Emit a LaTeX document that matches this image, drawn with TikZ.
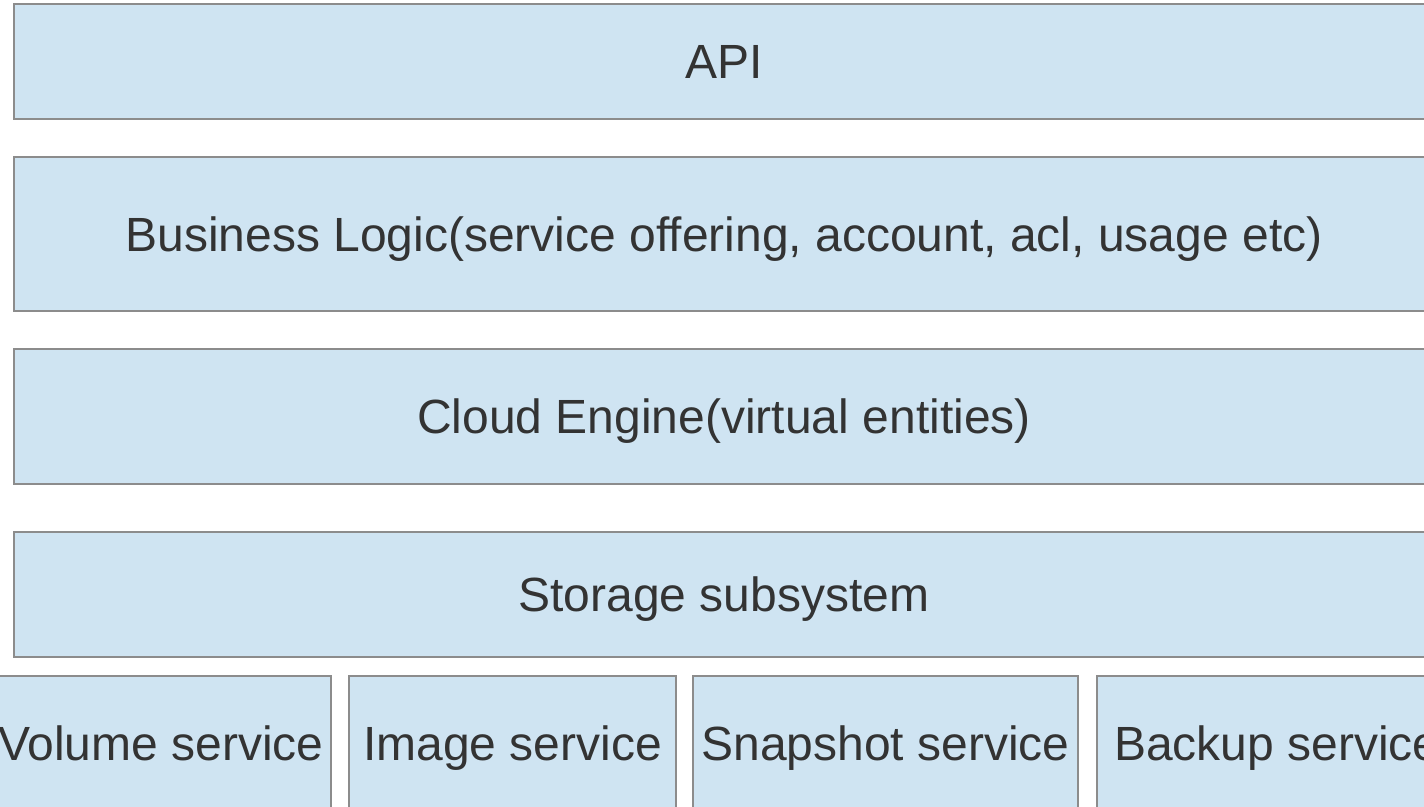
\documentclass[tikz,border=0pt]{standalone}
\usepackage{fontspec}
\setmainfont{Liberation Sans}
\definecolor{layerfill}{RGB}{207,228,242}
\definecolor{layerline}{RGB}{140,140,140}
\definecolor{layertext}{RGB}{51,51,51}
\tikzset{
  layer/.style={draw=layerline, fill=layerfill, line width=1.1pt, inner sep=0pt,
    outer sep=0pt, text=layertext, font=\fontsize{48}{56}\selectfont,
    text height=34.5pt, text depth=0pt}
}
\begin{document}
\begin{tikzpicture}[x=1pt, y=-1pt]
  \useasboundingbox (0,0) rectangle (1424,806);
  \clip (0,0) rectangle (1424,806);
  % stacked layers
  \node[layer, minimum width=1420pt, minimum height=115pt] (api) at (724,61.5) {API};
  \node[layer, minimum width=1420pt, minimum height=154pt] (biz) at (724,234) {Business Logic(service offering, account, acl, usage etc)};
  \node[layer, minimum width=1420pt, minimum height=135pt] (engine) at (724,416.5) {Cloud Engine(virtual entities)};
  \node[layer, minimum width=1420pt, minimum height=125pt] (storage) at (724,594.5) {Storage subsystem};
  % storage services
  \node[layer, minimum width=340pt, minimum height=134pt] (volume) at (161,743) {Volume service};
  \node[layer, minimum width=327pt, minimum height=134pt] (image) at (512.5,743) {Image service};
  \node[layer, minimum width=385pt, minimum height=134pt] (snapshot) at (885.5,743) {Snapshot service};
  \node[layer, minimum width=360pt, minimum height=134pt] (backup) at (1277,743) {Backup service};
\end{tikzpicture}
\end{document}
